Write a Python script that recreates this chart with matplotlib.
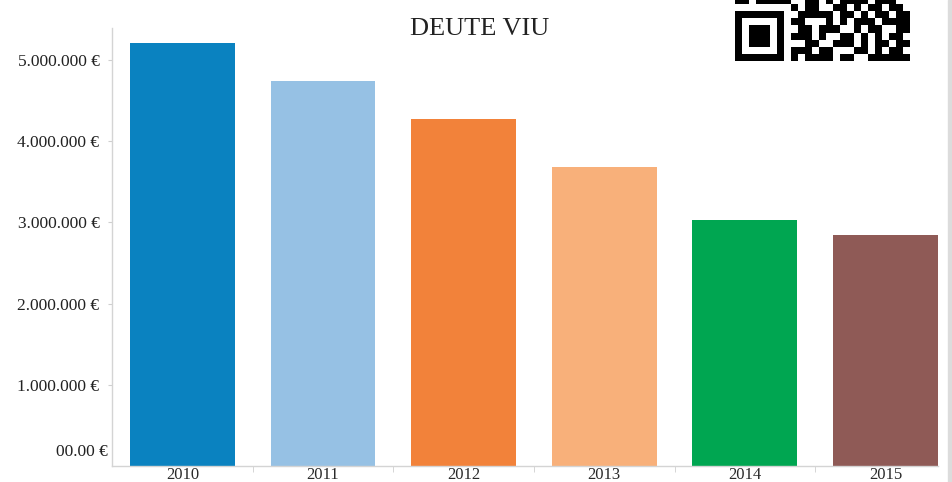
import numpy as np
import matplotlib
matplotlib.use("Agg")
import matplotlib.pyplot as plt
from matplotlib.patches import Rectangle

plt.rcParams['font.family'] = ['Liberation Serif', 'DejaVu Serif']

years = ['2010', '2011', '2012', '2013', '2014', '2015']
values = [5205000, 4745000, 4270000, 3680000, 3030000, 2850000]
colors = ['#0a82c0', '#96c1e4', '#f2823a', '#f8b07a', '#00a651', '#8f5a56']
ytick_vals = [1000000, 2000000, 3000000, 4000000, 5000000]
ytick_labels = ['1.000.000 €', '2.000.000 €', '3.000.000 €', '4.000.000 €', '5.000.000 €']

# decorative code block in the top right corner
qr_rows = [
    "1101111100110101111011100",
    "0000000010110011010110110",
    "1111111001111101101011011",
    "1000001011000101011101111",
    "1011101001101110010110011",
    "1011101011101001101010110",
    "1011101000110011101011011",
    "1000001011101100011010110",
    "1111111010111101100111111",
]

W, H = 953, 482
fig = plt.figure(figsize=(W / 100, H / 100), dpi=100)
ax = fig.add_axes([112 / W, 16 / H, (938 - 112) / W, (466 - 28) / H])

x = np.arange(len(years))
ax.bar(x, values, width=0.746, color=colors)

ax.set_xlim(-0.5, 5.373)
ax.set_ylim(0, 5394000)

for s in ['top', 'right']:
    ax.spines[s].set_visible(False)
for s in ['left', 'bottom']:
    ax.spines[s].set_color('#d4d4d4')
    ax.spines[s].set_linewidth(1)

ax.set_xticks(x)
ax.set_xticklabels(years, fontsize=12, color='#2a2a2a')
ax.set_xticks(x[:-1] + 0.5, minor=True)
ax.tick_params(axis='x', which='major', length=0, pad=1)
ax.tick_params(axis='x', which='minor', length=4, color='#cfcfcf', direction='out')

ax.set_yticks(ytick_vals)
ax.set_yticklabels(ytick_labels, fontsize=12.5, color='#222222')
ax.tick_params(axis='y', length=3, color='#cfcfcf', pad=6)

ax.annotate('00.00 €', xy=(0, 0), xycoords=('axes fraction', 'data'),
            xytext=(-4, 14), textcoords='offset pixels',
            ha='right', va='center', fontsize=12.5, color='#222222')

fig.text(480 / W, 1 - 29 / H, 'DEUTE VIU', ha='center', va='center',
         fontsize=19, color='#222222')

qr = np.array([[int(c) for c in r] for r in qr_rows])
qax = fig.add_axes([735 / W, (H - 61) / H, 175 / W, 64 / H])
qax.imshow(qr, cmap='gray_r', aspect='auto', interpolation='nearest')
qax.axis('off')

fig.patches.append(Rectangle((948 / W, 0), 5 / W, 1, transform=fig.transFigure,
                             color='#dcdcdc', zorder=0))

fig.savefig('out.png', dpi=100)
